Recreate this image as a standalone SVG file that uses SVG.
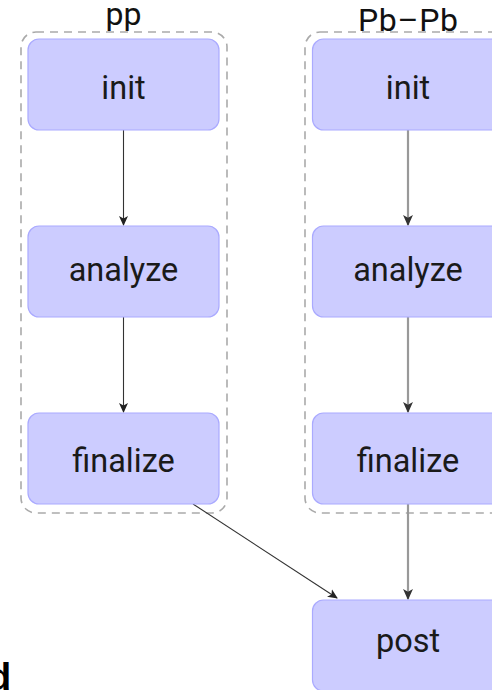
<svg xmlns="http://www.w3.org/2000/svg" width="492" height="690" viewBox="0 0 492 690">
<style>
.box{fill:#ccccff;stroke:#aaaaff;stroke-width:1.2}
.grp{fill:none;stroke:#aaaaaa;stroke-width:1.6;stroke-dasharray:8 6}
.t{font-family:Roboto,"DejaVu Sans",sans-serif;font-size:32.5px;fill:#1a1a1a;text-anchor:middle}
.lbl{font-family:Roboto,"DejaVu Sans",sans-serif;font-size:32px;fill:#111;text-anchor:middle}
.e1{fill:none;stroke:#333;stroke-width:1.1}
.e2{fill:none;stroke:#999;stroke-width:2.2}
</style>
<defs>
<marker id="ah" viewBox="0 0 10 10" refX="9" refY="5" markerWidth="10" markerHeight="10" markerUnits="userSpaceOnUse" orient="auto">
<path d="M0,0.5 L10,5 L0,9.5 L2.5,5 Z" fill="#222"/>
</marker>
<marker id="ah2" viewBox="0 0 10 10" refX="9" refY="5" markerWidth="11" markerHeight="11" markerUnits="userSpaceOnUse" orient="auto">
<path d="M0,0.5 L10,5 L0,9.5 L2.5,5 Z" fill="#333"/>
</marker>
</defs>
<rect width="492" height="690" fill="#ffffff"/>
<g id="group-pp">
<rect class="grp" x="21" y="32" width="206" height="481" rx="15"/>
<text class="lbl" x="123.5" y="25">pp</text>
</g>
<g id="group-pbpb">
<rect class="grp" x="305" y="32" width="206" height="481" rx="15"/>
<text class="lbl" x="408" y="31" textLength="100" lengthAdjust="spacing">Pb–Pb</text>
</g>
<g id="connectors">
<line class="e1" x1="123.5" y1="130" x2="123.5" y2="225" marker-end="url(#ah)"/>
<line class="e1" x1="123.5" y1="317" x2="123.5" y2="412" marker-end="url(#ah)"/>
<line class="e2" x1="408" y1="130" x2="408" y2="225" marker-end="url(#ah2)"/>
<line class="e2" x1="408" y1="317" x2="408" y2="412" marker-end="url(#ah2)"/>
<line class="e2" x1="408" y1="504" x2="408" y2="599" marker-end="url(#ah2)"/>
<line class="e1" x1="193" y1="504" x2="337" y2="598" marker-end="url(#ah)"/>
</g>
<g id="pp-init"><rect class="box" x="28" y="39" width="191" height="91" rx="11"/><text class="t" x="123.5" y="99">init</text></g>
<g id="pp-analyze"><rect class="box" x="28" y="226" width="191" height="91" rx="11"/><text class="t" x="123.5" y="281">analyze</text></g>
<g id="pp-finalize"><rect class="box" x="28" y="413" width="191" height="91" rx="11"/><text class="t" x="123.5" y="472">finalize</text></g>
<g id="pbpb-init"><rect class="box" x="312.5" y="39" width="191" height="91" rx="11"/><text class="t" x="408" y="99">init</text></g>
<g id="pbpb-analyze"><rect class="box" x="312.5" y="226" width="191" height="91" rx="11"/><text class="t" x="408" y="281">analyze</text></g>
<g id="pbpb-finalize"><rect class="box" x="312.5" y="413" width="191" height="91" rx="11"/><text class="t" x="408" y="472">finalize</text></g>
<g id="post"><rect class="box" x="312.5" y="600" width="191" height="91" rx="11"/><text class="t" x="408" y="652">post</text></g>
<text x="-12" y="690" font-family="Liberation Sans, sans-serif" font-weight="bold" font-size="38" fill="#000">d</text>
</svg>
